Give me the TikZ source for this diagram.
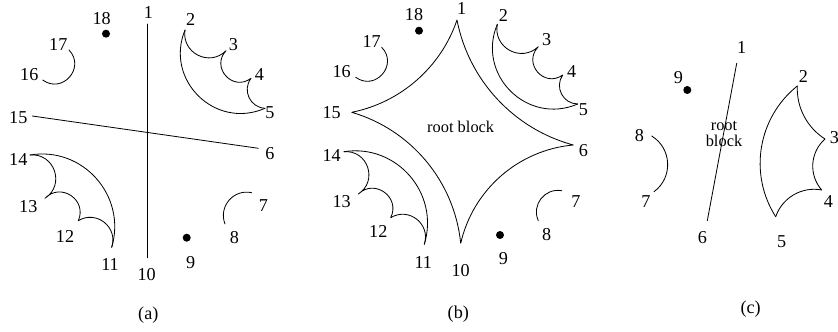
\documentclass[tikz,border=0pt]{standalone}
\usepackage{fontspec}
\setmainfont{Liberation Serif}
\tikzset{
  every picture/.style={line join=round, line cap=round},
  num/.style={inner sep=0pt, font=\fontsize{15.5}{18}\selectfont},
  rootlabel/.style={inner sep=0pt, align=center, font=\fontsize{14}{13}\selectfont},
  geo/.style={bend left=#1,
    /utils/exec={\pgfmathsetmacro\geoloose{1/(1.1745*cos(#1/2)^2)}},
    looseness=\geoloose},
}
\begin{document}
\begin{tikzpicture}[x=0.03cm, y=0.03cm, line width=0.7pt]
\useasboundingbox (0,0) rectangle (838,331);
% (a)
\coordinate (a1) at (147.3,307);   \coordinate (a10) at (147.3,73.3);
\coordinate (a15) at (32.3,215);   \coordinate (a6) at (258.3,182.7);
\coordinate (a17) at (69,281);     \coordinate (a16) at (42.7,251);
\coordinate (a2) at (185,301);     \coordinate (a3) at (226,280.3);
\coordinate (a4) at (251,252.7);   \coordinate (a5) at (265,222.7);
\coordinate (a14) at (30,176);     \coordinate (a13) at (45,132.7);
\coordinate (a12) at (78.3,110.3); \coordinate (a11) at (111.7,83.7);
\coordinate (a7) at (251.7,138.3); \coordinate (a8) at (225,107);
\coordinate (a18) at (106,297.3);  \coordinate (a9) at (186.7,93.3);
\draw (a1) -- (a10);
\draw (a15) -- (a6);
\draw (a17) to[geo=85] (a16);
\draw (a7) to[geo=-62] (a8);
\draw (a2) to[geo=-72] (a3) to[geo=-85] (a4) to[geo=-62] (a5);
\draw (a2) to[geo=-68] (a5);
\draw (a14) to[geo=76] (a13) to[geo=80] (a12) to[geo=70] (a11);
\draw (a14) to[geo=58] (a11);
\fill (a18) circle (1.2mm);
\fill (a9) circle (1.2mm);
\node[num] (la1) at (148.3,318.3) {1};
\node[num] (la2) at (190.7,311.7) {2};
\node[num] (la3) at (233.3,286.7) {3};
\node[num] (la4) at (259.3,256) {4};
\node[num] (la5) at (270,218.3) {5};
\node[num] (la6) at (270,177) {6};
\node[num] (la7) at (263.3,125) {7};
\node[num] (la8) at (234.3,93.3) {8};
\node[num] (la9) at (190.7,68.7) {9};
\node[num] (la10) at (146.7,56) {10};
\node[num] (la11) at (110,66) {11};
\node[num] (la12) at (65,95) {12};
\node[num] (la13) at (28.3,124.3) {13};
\node[num] (la14) at (18.3,171.7) {14};
\node[num] (la15) at (18.3,213.7) {15};
\node[num] (la16) at (29.3,256) {16};
\node[num] (la17) at (58.3,286.7) {17};
\node[num] (la18) at (101.7,312.7) {18};
\node[num] (capa) at (148.3,16) {(a)};
% (b)
\coordinate (b1) at (457,311);     \coordinate (b15) at (351.7,218.7);
\coordinate (b10) at (460.7,87.7); \coordinate (b6) at (573.3,186);
\coordinate (b17) at (381.7,283.7); \coordinate (b16) at (355.7,253.7);
\coordinate (b2) at (497.3,306.7); \coordinate (b3) at (538.3,284.3);
\coordinate (b4) at (562.7,256);   \coordinate (b5) at (577.7,227);
\coordinate (b14) at (344,179.3);  \coordinate (b13) at (358.3,137);
\coordinate (b12) at (390.7,113.3); \coordinate (b11) at (424.3,86.7);
\coordinate (b7) at (561.7,140.3); \coordinate (b8) at (538.3,110.3);
\coordinate (b18) at (419,300.3);  \coordinate (b9) at (500,96);
\draw (b1) to[geo=30] (b15) to[geo=34] (b10) to[geo=36] (b6) to[geo=32] (b1);
\draw (b17) to[geo=85] (b16);
\draw (b7) to[geo=-62] (b8);
\draw (b2) to[geo=-72] (b3) to[geo=-85] (b4) to[geo=-62] (b5);
\draw (b2) to[geo=-68] (b5);
\draw (b14) to[geo=76] (b13) to[geo=80] (b12) to[geo=70] (b11);
\draw (b14) to[geo=58] (b11);
\fill (b18) circle (1.2mm);
\fill (b9) circle (1.2mm);
\node[rootlabel] (rootb) at (460.7,203.7) {root block};
\node[num] (lb1) at (461.7,322) {1};
\node[num] (lb2) at (503.3,316) {2};
\node[num] (lb3) at (546.7,291) {3};
\node[num] (lb4) at (571.7,259.3) {4};
\node[num] (lb5) at (583.3,221.7) {5};
\node[num] (lb6) at (583.3,180.3) {6};
\node[num] (lb7) at (576,129.3) {7};
\node[num] (lb8) at (546.7,96) {8};
\node[num] (lb9) at (503.3,72.7) {9};
\node[num] (lb10) at (460.7,60.3) {10};
\node[num] (lb11) at (423.3,68.7) {11};
\node[num] (lb12) at (378.3,99.3) {12};
\node[num] (lb13) at (341.7,129.3) {13};
\node[num] (lb14) at (331.7,175) {14};
\node[num] (lb15) at (331.7,218) {15};
\node[num] (lb16) at (341.7,259.3) {16};
\node[num] (lb17) at (371.7,289.3) {17};
\node[num] (lb18) at (414,316) {18};
\node[num] (capb) at (458.3,17) {(b)};
% (c)
\coordinate (c1) at (736.7,267.7); \coordinate (c6) at (707.3,110.3);
\coordinate (c8) at (651.7,195);   \coordinate (c7) at (654,139.3);
\coordinate (c2) at (797.3,245);   \coordinate (c3) at (825,192);
\coordinate (c4) at (821.7,141);   \coordinate (c5) at (775.7,114.3);
\coordinate (c9) at (687.3,241);
\draw (c1) -- (c6);
\draw (c8) to[geo=56] (c7);
\draw (c2) to[geo=-30] (c3) to[geo=-45] (c4) to[geo=-41] (c5);
\draw (c2) to[geo=-42] (c5);
\fill (c9) circle (1.2mm);
\node[rootlabel] (rootc) at (724,197) {root\\block};
\node[num] (lc1) at (741.7,283.3) {1};
\node[num] (lc2) at (803.3,254.3) {2};
\node[num] (lc3) at (834.3,193.7) {3};
\node[num] (lc4) at (828.3,129.3) {4};
\node[num] (lc5) at (781.7,89.3) {5};
\node[num] (lc6) at (702.3,93.3) {6};
\node[num] (lc7) at (646,129.3) {7};
\node[num] (lc8) at (639.3,195) {8};
\node[num] (lc9) at (678.3,253.7) {9};
\node[num] (capc) at (750.7,21.7) {(c)};
\end{tikzpicture}
\end{document}
